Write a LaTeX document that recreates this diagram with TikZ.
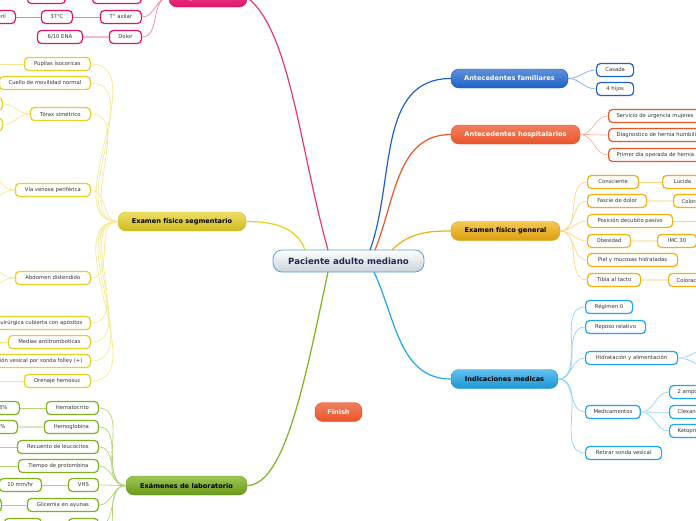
\documentclass[tikz,border=0pt]{standalone}
\usepackage{fontspec}
\setmainfont{DejaVu Sans}
\definecolor{pinkc}{HTML}{E3126B}
\definecolor{bluec}{HTML}{1D62C8}
\definecolor{orangec}{HTML}{EC5428}
\definecolor{goldc}{HTML}{F2B00C}
\definecolor{yellowc}{HTML}{E6D024}
\definecolor{skyc}{HTML}{1FA6EA}
\definecolor{greenc}{HTML}{7DB41D}
\definecolor{rootline}{HTML}{5A9FD8}
\definecolor{rootfill}{HTML}{C9D3DB}
\definecolor{navyc}{HTML}{1B2A4E}
\definecolor{leaftext}{HTML}{333333}
\tikzset{
  root/.style={draw=rootline, line width=0.8pt, top color=white, bottom color=rootfill,
    rounded corners=9pt, minimum width=151pt, minimum height=22pt, text=navyc,
    font=\fontsize{8.6}{9}\selectfont\bfseries},
  topic/.style={rounded corners=8pt, minimum height=19pt, inner xsep=0pt,
    font=\fontsize{6.6}{7}\selectfont\bfseries},
  leaf/.style={draw, fill=white, rounded corners=4pt, line width=1.2pt, minimum height=13pt,
    inner xsep=8pt, inner ysep=0pt, text=leaftext, font=\fontsize{5.3}{6}\selectfont},
  stem/.style={line width=1.2pt},
  twig/.style={line width=0.7pt},
  fan/.style={line width=2.2pt},
  % one look per branch
  pinktop/.style={topic, top color=pinkc!75, bottom color=pinkc, draw=pinkc!90!black, text=white},
  bluetop/.style={topic, top color=bluec!70, bottom color=bluec, draw=bluec!85!black, text=white},
  orangetop/.style={topic, top color=orangec!75, bottom color=orangec, draw=orangec!90!black, text=white},
  goldtop/.style={topic, top color=goldc!70, bottom color=goldc!90!black, draw=goldc!90!black, text=black},
  yellowtop/.style={topic, top color=yellowc!70, bottom color=yellowc!90!black, draw=yellowc!90!black, text=black},
  skytop/.style={topic, top color=skyc!70, bottom color=skyc!90!black, draw=skyc!90!black, text=black},
  greentop/.style={topic, top color=greenc!75, bottom color=greenc!85!black, draw=greenc!85!black, text=black},
}
\begin{document}
\begin{tikzpicture}[x=1pt, y=-1pt]
  \useasboundingbox (0,0) rectangle (696,520);

  % central topic and main branches
  \node[root] (root) at (348.5,261) {Paciente adulto mediano};
  \node[pinktop, minimum width=78pt] (signos) at (208,-2.5) {Signos vitales};
  \node[yellowtop, minimum width=128pt] (segm) at (182,221.5) {Examen físico segmentario};
  \node[greentop, minimum width=121pt] (labo) at (186.5,485.5) {Exámenes de laboratorio};
  \node[bluetop, minimum width=117pt] (fami) at (509.5,78.5) {Antecedentes familiares};
  \node[orangetop, minimum width=129pt] (hosp) at (515.5,134.5) {Antecedentes hospitalarios};
  \node[goldtop, minimum width=109pt] (gene) at (505.5,231) {Examen físico general};
  \node[skytop, minimum width=107pt] (indi) at (504.5,379) {Indicaciones medicas};
  \node[orangetop, minimum width=47pt] (finish) at (338.5,412) {Finish};

  \coordinate (rpink) at (328,250);
  \coordinate (ryell) at (305,250);
  \coordinate (rgren) at (328,272);
  \coordinate (rblue) at (370,250);
  \coordinate (roran) at (375,250);
  \coordinate (rgold) at (392,250);
  \coordinate (rsky) at (374,272);
  \draw[stem, pinkc!85] (rpink) .. controls (300,150) and (290,30) .. (signos.east);
  \draw[stem, yellowc] (ryell) to[out=110, in=0] (segm.east);
  \draw[stem, greenc] (rgren) .. controls (305,380) and (285,485) .. (labo.east);
  \draw[stem, bluec] (rblue) to[out=70, in=180] (fami.west);
  \draw[stem, orangec] (roran) to[out=68, in=180] (hosp.west);
  \draw[stem, goldc] (rgold) to[out=45, in=180] (gene.west);
  \draw[stem, skyc] (rsky) to[out=-65, in=180] (indi.west);

  % signos vitales
  \tikzset{every node/.append style={draw=pinkc}}
  \node[leaf, anchor=east, minimum width=49pt] (pres) at (142,-3) {};
  \node[leaf, anchor=east, minimum width=38pt] (presv) at (66,-3) {};
  \node[leaf, anchor=east, minimum width=41pt] (temp) at (142,17) {T° axilar};
  \node[leaf, anchor=east, minimum width=31pt] (tempv) at (73,17) {37°C};
  \node[leaf, anchor=east, minimum width=36pt] (afeb) at (16,17) {Afebril};
  \node[leaf, anchor=east, minimum width=32pt] (dolor) at (142,37) {Dolor};
  \node[leaf, anchor=east, minimum width=45pt] (ena) at (83,37) {6/10 ENA};
  \foreach \n in {pres,temp,dolor}
    \draw[twig, pinkc!55] (signos.west) to[out=180, in=0] (\n.east);
  \draw[twig, pinkc!55] (presv) -- (pres);
  \draw[twig, pinkc!55] (tempv) -- (temp);
  \draw[twig, pinkc!55] (afeb) -- (tempv);
  \draw[fan, pinkc!30] (ena) -- (dolor);

  % examen fisico segmentario
  \tikzset{every node/.append style={draw=yellowc}}
  \node[leaf, anchor=east, minimum width=66pt] (pupi) at (91,64) {Pupilas isocoricas};
  \node[leaf, anchor=east, minimum width=91pt] (cuel) at (91,83) {Cuello de movilidad normal};
  \node[leaf, anchor=east, minimum width=60pt] (tora) at (91,114) {Tórax simétrico};
  \node[leaf, anchor=east, minimum width=30pt] (torax1) at (3,104) {};
  \node[leaf, anchor=east, minimum width=30pt] (torax2) at (3,124.5) {};
  \node[leaf, anchor=east, minimum width=75pt] (vena) at (91,190) {Vía venosa periférica};
  \node[leaf, anchor=east, minimum width=75pt] (abdo) at (91,278) {Abdomen distendido};
  \node[leaf, anchor=east] (heri) at (91,323) {Herida quirúrgica cubierta con apósitos};
  \node[leaf, anchor=east, minimum width=82pt] (medi) at (91,342) {Medias antitromboticas};
  \node[leaf, anchor=east] (elim) at (91,361) {Eliminación vesical por sonda folley (+)};
  \node[leaf, anchor=east, minimum width=66pt] (dren) at (91,381) {Drenaje hemosuc};
  \coordinate (pupix) at (-30,64);
  \coordinate (venau) at (-30,140);
  \coordinate (venad) at (-30,215);
  \coordinate (abdou) at (-30,250);
  \coordinate (abdod) at (-30,300);
  \coordinate (medix) at (-30,342);
  \coordinate (drenx) at (-30,381);
  \foreach \n in {pupi,cuel,tora,vena,abdo,heri,medi,elim,dren}
    \draw[twig, yellowc!50] (segm.west) to[out=180, in=0] (\n.east);
  \foreach \n in {torax1,torax2}
    \draw[twig, yellowc!50] (tora.west) to[out=180, in=0] (\n.east);
  \foreach \n in {venau,venad}
    \draw[twig, yellowc!50] (vena.west) to[out=180, in=0] (\n);
  \foreach \n in {abdou,abdod}
    \draw[twig, yellowc!50] (abdo.west) to[out=180, in=0] (\n);
  \draw[twig, yellowc!50] (pupi.west) -- (pupix);
  \draw[twig, yellowc!50] (medi.west) -- (medix);
  \draw[twig, yellowc!50] (dren.west) -- (drenx);

  % examenes de laboratorio
  \tikzset{every node/.append style={draw=greenc}}
  \node[leaf, anchor=east, minimum width=52pt] (hema) at (99,408) {Hematocrito};
  \node[leaf, anchor=east, minimum width=36pt] (hemav) at (20,408) {38\%};
  \node[leaf, anchor=east, minimum width=54pt] (hemo) at (99,427) {Hemoglobina};
  \node[leaf, anchor=east, minimum width=36pt] (hemov) at (18,427) {12\%};
  \node[leaf, anchor=east, minimum width=81pt] (leuc) at (99,447) {Recuento de leucocitos};
  \node[leaf, anchor=east, minimum width=80pt] (prot) at (99,466) {Tiempo de protombina};
  \node[leaf, anchor=east, minimum width=30pt] (vhs) at (99,485) {VHS};
  \node[leaf, anchor=east, minimum width=37pt] (vhsv) at (42,485) {10 mm/hr};
  \node[leaf, anchor=east, minimum width=71pt] (glic) at (99,505) {Glicemia en ayunas};
  \node[leaf, anchor=east, minimum width=30pt] (glicv) at (2,505) {};
  \node[leaf, anchor=east, minimum width=30pt] (otro) at (99,525) {};
  \node[leaf, anchor=east, minimum width=37pt] (otrov) at (42,525) {};
  \coordinate (leucx) at (-30,447);
  \coordinate (protx) at (-30,466);
  \coordinate (masx) at (99,548);
  \foreach \n in {hema,hemo,leuc,prot,vhs,glic,otro}
    \draw[twig, greenc!60] (labo.west) to[out=180, in=0] (\n.east);
  \draw[twig, greenc!60] (labo.west) to[out=180, in=0] (masx);
  \draw[twig, greenc!60] (hemav) -- (hema);
  \draw[fan, greenc!30] (hemov) -- (hemo);
  \draw[twig, greenc!60] (vhsv) -- (vhs);
  \draw[twig, greenc!60] (glicv) -- (glic);
  \draw[twig, greenc!60] (otrov) -- (otro);
  \draw[twig, greenc!60] (leuc.west) -- (leucx);
  \draw[twig, greenc!60] (prot.west) -- (protx);

  % antecedentes familiares
  \tikzset{every node/.append style={draw=bluec}}
  \node[leaf, anchor=west, minimum width=37pt] (casa) at (596,70) {Casada};
  \node[leaf, anchor=west, minimum width=37pt] (hijo) at (596,89) {4 hijos};
  \foreach \n in {casa,hijo}
    \draw[twig, bluec!55] (fami.east) to[out=0, in=180] (\n.west);

  % antecedentes hospitalarios
  \tikzset{every node/.append style={draw=orangec}}
  \node[leaf, anchor=west] (urge) at (608,116) {Servicio de urgencia mujeres};
  \node[leaf, anchor=west] (diag) at (608,135) {Diagnostico de hernia humbilical};
  \node[leaf, anchor=west] (oper) at (608,155) {Primer día operada de hernia};
  \foreach \n in {urge,diag,oper}
    \draw[twig, orangec!45] (hosp.east) to[out=0, in=180] (\n.west);

  % examen fisico general
  \tikzset{every node/.append style={draw=goldc}}
  \node[leaf, anchor=west, minimum width=51pt] (cons) at (587,182) {Consciente};
  \node[leaf, anchor=west, minimum width=40pt] (luci) at (662,182) {Lucida};
  \node[leaf, anchor=west, minimum width=59pt] (fasc) at (587,201) {Fascie de dolor};
  \node[leaf, anchor=west, minimum width=40pt] (fascv) at (673,201) {Coloración};
  \node[leaf, anchor=west, minimum width=85pt] (posi) at (587,221) {Posición decubito pasivo};
  \node[leaf, anchor=west, minimum width=43pt] (obes) at (587,241) {Obesidad};
  \node[leaf, anchor=west, minimum width=39pt] (imc) at (657,241) {IMC 30};
  \node[leaf, anchor=west, minimum width=90pt] (piel) at (587,260) {Piel y mucosas hidratadas};
  \node[leaf, anchor=west, minimum width=53pt] (tibi) at (587,280) {Tibia al tacto};
  \node[leaf, anchor=west, minimum width=40pt] (tibiv) at (668,280) {Coloración};
  \coordinate (posix) at (730,221);
  \foreach \n in {cons,fasc,posi,obes,piel,tibi}
    \draw[twig, goldc!50] (gene.east) to[out=0, in=180] (\n.west);
  \draw[twig, goldc!50] (cons) -- (luci);
  \draw[fan, goldc!25] (fasc) -- (fascv);
  \draw[twig, goldc!50] (posi.east) -- (posix);
  \draw[fan, goldc!25] (obes) -- (imc);
  \draw[fan, goldc!25] (tibi) -- (tibiv);

  % indicaciones medicas
  \tikzset{every node/.append style={draw=skyc}}
  \node[leaf, anchor=west, minimum width=47pt] (regi) at (585,307) {Régimen 0};
  \node[leaf, anchor=west, minimum width=60pt] (repo) at (585,327) {Reposo relativo};
  \node[leaf, anchor=west, minimum width=92pt] (hidr) at (585,358) {Hidratación y alimentación};
  \node[leaf, anchor=west, minimum width=48pt] (medc) at (585,412) {Medicamentos};
  \node[leaf, anchor=west] (ampo) at (669,392) {2 ampollas};
  \node[leaf, anchor=west] (clex) at (669,412) {Clexane};
  \node[leaf, anchor=west] (keto) at (669,431) {Ketoprofeno};
  \node[leaf, anchor=west, minimum width=76pt] (reti) at (585,453) {Retirar sonda vesical};
  \coordinate (hidru) at (725,338);
  \coordinate (hidrd) at (725,378);
  \foreach \n in {regi,repo,hidr,medc,reti}
    \draw[twig, skyc!50] (indi.east) to[out=0, in=180] (\n.west);
  \foreach \n in {ampo,clex,keto}
    \draw[twig, skyc!50] (medc.east) to[out=0, in=180] (\n.west);
  \foreach \n in {hidru,hidrd}
    \draw[twig, skyc!50] (hidr.east) to[out=0, in=180] (\n);
  \draw[fan, skyc!25] (medc.east) -- ++(10,0);
  \draw[fan, skyc!25] (hidr.east) -- ++(8,0);
\end{tikzpicture}
\end{document}
